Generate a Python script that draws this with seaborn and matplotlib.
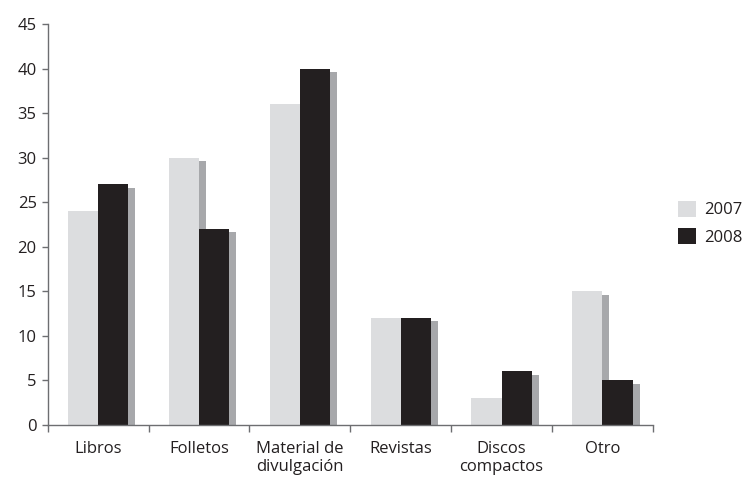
import matplotlib
matplotlib.use("Agg")
import matplotlib.pyplot as plt
import matplotlib.patheffects as pe
from matplotlib.patches import Patch
import numpy as np
import pandas as pd
import seaborn as sns

categories = ["Libros", "Folletos", "Material de\ndivulgación", "Revistas", "Discos\ncompactos", "Otro"]
years = ["2007", "2008"]
values_2007 = [24, 30, 36, 12, 3, 15]
values_2008 = [27, 22, 40, 12, 6, 5]
y_ticks = [0, 5, 10, 15, 20, 25, 30, 35, 40, 45]

colors = {"2007": "#dcdddf", "2008": "#231f20"}
shadow_color = "#a7a8ab"

df = pd.DataFrame({
    "Categoría": categories * 2,
    "Año": [years[0]] * len(categories) + [years[1]] * len(categories),
    "Valor": values_2007 + values_2008,
})

sns.set_style("white")
plt.rcParams["font.family"] = ["Open Sans", "DejaVu Sans"]

fig = plt.figure(figsize=(7.47, 4.8), dpi=100)
ax = fig.add_axes([0.064, 0.115, 0.81, 0.835])

sns.barplot(data=df, x="Categoría", y="Valor", hue="Año", palette=colors,
            width=0.6, errorbar=None, ax=ax, legend=False, saturation=1)

for p in ax.patches:
    p.set_linewidth(0)
    p.set_path_effects([
        pe.SimplePatchShadow(offset=(5, -2.5), shadow_rgbFace=shadow_color, alpha=1),
        pe.Normal(),
    ])

ax.set_ylim(0, 45)
ax.set_xlim(-0.5, len(categories) - 0.5)
ax.set_yticks(y_ticks)
ax.set_xlabel("")
ax.set_ylabel("")

for s in ["top", "right"]:
    ax.spines[s].set_visible(False)
for s in ["left", "bottom"]:
    ax.spines[s].set_color("#6d6e71")
    ax.spines[s].set_linewidth(1)
    ax.spines[s].set_zorder(5)

ax.tick_params(axis="y", length=4, width=1, color="#6d6e71", labelsize=12,
               labelcolor="#231f20", pad=4, left=True)
ax.tick_params(axis="x", which="major", length=0, labelsize=12,
               labelcolor="#231f20", pad=12)
ax.set_xticks(np.arange(-0.5, len(categories), 1.0), minor=True)
ax.tick_params(axis="x", which="minor", length=5, width=1, color="#6d6e71", bottom=True)
ax.set_xticklabels(categories, linespacing=1.15)

handles = [Patch(facecolor=colors[y], edgecolor="none", label=y) for y in years]
fig.legend(handles=handles, loc="center left", bbox_to_anchor=(0.907, 0.535),
           frameon=False, fontsize=12, handlelength=1.1, handleheight=1.1,
           handletextpad=0.5, labelspacing=0.6, labelcolor="#231f20",
           borderpad=0, borderaxespad=0)

fig.savefig("out.png", dpi=100)
